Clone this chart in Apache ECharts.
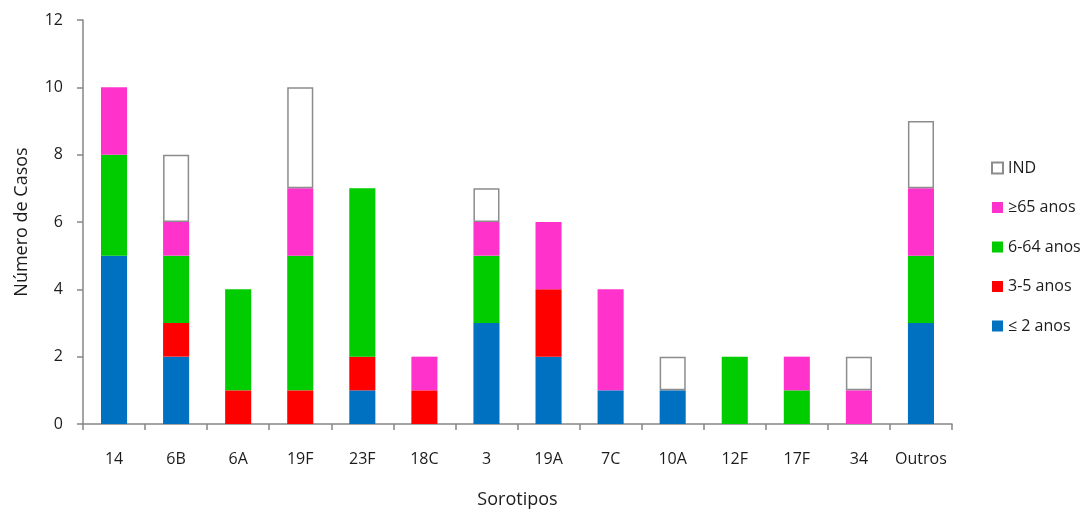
<!DOCTYPE html>
<html>
<head>
<meta charset="utf-8">
<script src="https://cdn.jsdelivr.net/npm/echarts@6/dist/echarts.min.js"></script>
<style>
  html, body { margin: 0; padding: 0; background: #fff; }
  #chart { width: 1088px; height: 510px; }
</style>
</head>
<body>
<div id="chart"></div>
<script>
// Serotypes on the x axis
const categories = ['14', '6B', '6A', '19F', '23F', '18C', '3', '19A', '7C', '10A', '12F', '17F', '34', 'Outros'];

// Cases per age group (stacked bottom to top)
const ate2 = [5, 2, 0, 0, 1, 0, 3, 2, 1, 1, 0, 0, 0, 3];
const de3a5 = [0, 1, 1, 1, 1, 1, 0, 2, 0, 0, 0, 0, 0, 0];
const de6a64 = [3, 2, 3, 4, 5, 0, 2, 0, 0, 0, 2, 1, 0, 2];
const mais65 = [2, 1, 0, 2, 0, 1, 1, 2, 3, 0, 0, 1, 1, 2];
const ind = [0, 2, 0, 3, 0, 0, 1, 0, 0, 1, 0, 0, 1, 2];

const yTicks = { min: 0, max: 12, interval: 2 };

const font = 'Open Sans, Liberation Sans, sans-serif';
const textColor = '#1c1c1c';
const axisGrey = '#868686';

function bar(name, data, color, border) {
  return {
    name: name,
    type: 'bar',
    stack: 'casos',
    barWidth: '42%',
    data: data.map(v => v === 0 ? null : v),
    itemStyle: border
      ? { color: color, borderColor: border, borderWidth: 1.5 }
      : { color: color },
    emphasis: { disabled: true }
  };
}

const chart = echarts.init(document.getElementById('chart'), null, { renderer: 'canvas' });
chart.setOption({
  animation: false,
  backgroundColor: '#fff',
  grid: { left: 83, right: 136, top: 20, bottom: 86, containLabel: false, outerBoundsMode: 'none' },
  legend: {
    orient: 'vertical',
    left: 986,
    top: 155,
    itemGap: 23.5,
    itemWidth: 11,
    itemHeight: 11,
    icon: 'rect',
    data: ['IND', '≥65 anos', '6-64 anos', '3-5 anos', '≤ 2 anos'],
    textStyle: { fontFamily: font, fontSize: 16, color: textColor }
  },
  xAxis: {
    type: 'category',
    data: categories,
    name: 'Sorotipos',
    nameLocation: 'middle',
    nameGap: 67,
    nameTextStyle: { fontFamily: font, fontSize: 18, color: textColor },
    axisLine: { lineStyle: { color: axisGrey, width: 1.5 } },
    axisTick: { show: true, alignWithLabel: false, interval: 0, length: 6, lineStyle: { color: axisGrey, width: 1.5 } },
    axisLabel: { interval: 0, fontFamily: font, fontSize: 16, color: textColor, margin: 27 },
    splitLine: { show: false }
  },
  yAxis: {
    type: 'value',
    min: yTicks.min,
    max: yTicks.max,
    interval: yTicks.interval,
    name: 'Número de Casos',
    nameLocation: 'middle',
    nameGap: 52,
    nameRotate: 90,
    nameTextStyle: { fontFamily: font, fontSize: 18, color: textColor },
    axisLine: { show: true, lineStyle: { color: axisGrey, width: 1.5 } },
    axisTick: { show: true, length: 6, lineStyle: { color: axisGrey, width: 1.5 } },
    axisLabel: { fontFamily: font, fontSize: 16, color: textColor, margin: 20 },
    splitLine: { show: false }
  },
  series: [
    bar('≤ 2 anos', ate2, '#0070C0'),
    bar('3-5 anos', de3a5, '#FF0000'),
    bar('6-64 anos', de6a64, '#00CC00'),
    bar('≥65 anos', mais65, '#FF33CC'),
    bar('IND', ind, '#FFFFFF', '#8C8C8C')
  ]
});
</script>
</body>
</html>
